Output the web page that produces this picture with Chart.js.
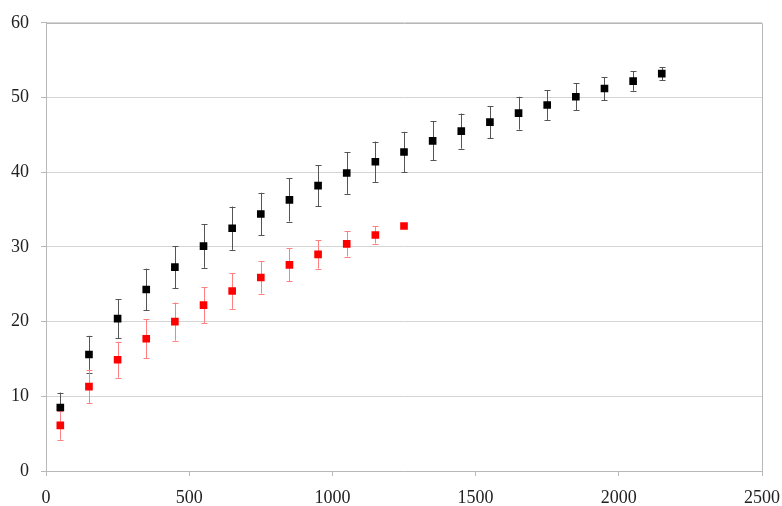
<!DOCTYPE html>
<html>
<head>
<meta charset="utf-8">
<script src="https://cdn.jsdelivr.net/npm/chart.js@4.4.1/dist/chart.umd.min.js"></script>
<style>
  html, body { margin: 0; padding: 0; background: #fff; }
  #wrap { width: 782px; height: 506px; }
</style>
</head>
<body>
<div id="wrap"><canvas id="c" width="782" height="506"></canvas></div>
<script>
// Series 1 (black): x positions, means and half-widths of the error bars
const xBlack = [50, 150, 250, 350, 450, 550, 650, 750, 850, 950, 1050,
                1150, 1250, 1350, 1450, 1550, 1650, 1750, 1850, 1950, 2050, 2150];
const yBlack = [8.5, 15.6, 20.4, 24.3, 27.3, 30.1, 32.5, 34.4, 36.3, 38.2, 39.9,
                41.4, 42.7, 44.2, 45.5, 46.7, 47.9, 49.0, 50.1, 51.2, 52.2, 53.2];
const errBlack = [2.0, 2.5, 2.6, 2.8, 2.8, 2.9, 2.9, 2.85, 2.9, 2.75, 2.8,
                  2.7, 2.7, 2.6, 2.35, 2.15, 2.2, 2.0, 1.8, 1.55, 1.3, 0.85];

// Series 2 (red)
const xRed = [50, 150, 250, 350, 450, 550, 650, 750, 850, 950, 1050, 1150, 1250];
const yRed = [6.1, 11.3, 14.9, 17.7, 20.0, 22.2, 24.1, 25.9, 27.6, 29.0, 30.4, 31.6, 32.8];
const errRed = [1.9, 2.25, 2.4, 2.6, 2.55, 2.4, 2.4, 2.15, 2.2, 1.9, 1.7, 1.15, 0];

// Axis ranges and tick spacing
const xTicks = { min: 0, max: 2500, step: 500 };
const yTicks = { min: 0, max: 60, step: 10 };

const toPoints = (xs, ys, es) => xs.map((x, i) => ({ x: x, y: ys[i], err: es[i] }));

// Vertical error bars with caps, drawn beneath the markers
const errorBars = {
  id: 'errorBars',
  beforeDatasetsDraw(chart) {
    const ctx = chart.ctx;
    const xs = chart.scales.x, ys = chart.scales.y;
    chart.data.datasets.forEach((ds, di) => {
      if (!chart.isDatasetVisible(di)) return;
      ctx.save();
      ctx.strokeStyle = ds.errorColor;
      ctx.lineWidth = 1;
      ds.data.forEach(p => {
        if (!p.err) return;
        const px = Math.round(xs.getPixelForValue(p.x)) + 0.5;
        const top = ys.getPixelForValue(p.y + p.err);
        const bot = ys.getPixelForValue(p.y - p.err);
        const cap = 3;
        ctx.beginPath();
        ctx.moveTo(px, top); ctx.lineTo(px, bot);
        ctx.moveTo(px - cap, Math.round(top) + 0.5); ctx.lineTo(px + cap, Math.round(top) + 0.5);
        ctx.moveTo(px - cap, Math.round(bot) + 0.5); ctx.lineTo(px + cap, Math.round(bot) + 0.5);
        ctx.stroke();
      });
      ctx.restore();
    });
  }
};

// Grey frame around the plot area
const plotFrame = {
  id: 'plotFrame',
  afterDraw(chart) {
    const a = chart.chartArea, ctx = chart.ctx;
    ctx.save();
    ctx.strokeStyle = '#b8b8b8';
    ctx.lineWidth = 1;
    ctx.beginPath();
    ctx.moveTo(Math.round(a.left) + 0.5, Math.round(a.top) + 0.5);
    ctx.lineTo(Math.round(a.right) + 0.5, Math.round(a.top) + 0.5);
    ctx.lineTo(Math.round(a.right) + 0.5, Math.round(a.bottom) + 0.5);
    ctx.stroke();
    ctx.restore();
  }
};

const tickFont = { family: '"Liberation Serif", "Times New Roman", serif', size: 18 };
const plainNumber = v => String(v);

new Chart(document.getElementById('c'), {
  type: 'scatter',
  data: {
    datasets: [
      {
        data: toPoints(xBlack, yBlack, errBlack),
        pointStyle: 'rect',
        pointRadius: 5.4,
        pointHoverRadius: 5.4,
        backgroundColor: '#000000',
        borderColor: '#000000',
        borderWidth: 0,
        errorColor: '#555555'
      },
      {
        data: toPoints(xRed, yRed, errRed),
        pointStyle: 'rect',
        pointRadius: 5.4,
        pointHoverRadius: 5.4,
        backgroundColor: '#ff0000',
        borderColor: '#ff0000',
        borderWidth: 0,
        errorColor: '#ff8080'
      }
    ]
  },
  options: {
    responsive: false,
    animation: false,
    devicePixelRatio: 1,
    layout: { padding: { top: 20, right: 0, left: 0, bottom: 0 } },
    plugins: { legend: { display: false }, tooltip: { enabled: false } },
    scales: {
      x: {
        type: 'linear',
        min: xTicks.min, max: xTicks.max,
        ticks: { stepSize: xTicks.step, color: '#222', font: tickFont, padding: 11, maxRotation: 0, callback: plainNumber },
        grid: { drawOnChartArea: false, drawTicks: true, tickLength: 5, color: '#b8b8b8' },
        border: { color: '#b8b8b8' },
        afterFit(s) { s.height = 35; s.paddingRight = 20; }
      },
      y: {
        type: 'linear',
        min: yTicks.min, max: yTicks.max,
        ticks: { stepSize: yTicks.step, color: '#222', font: tickFont, padding: 12, callback: plainNumber },
        grid: { color: '#d4d4d4', tickLength: 5, tickColor: '#b8b8b8' },
        border: { color: '#b8b8b8' },
        afterFit(s) { s.width = 46; }
      }
    }
  },
  plugins: [errorBars, plotFrame]
});
</script>
</body>
</html>
